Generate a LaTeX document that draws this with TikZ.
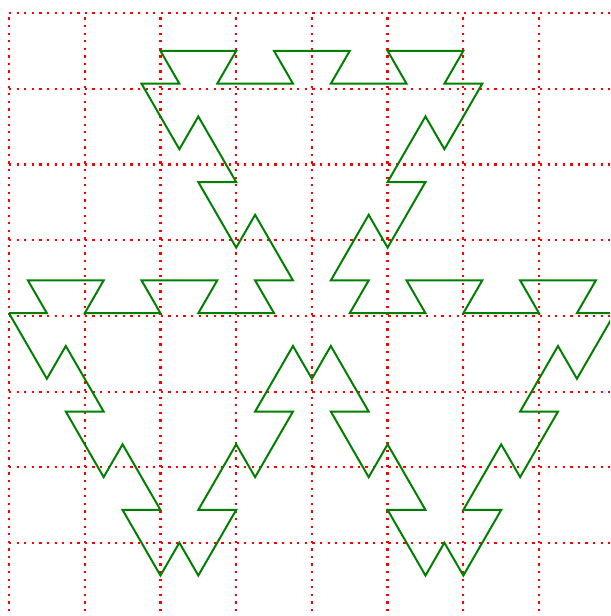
\documentclass[tikz,border=0pt]{standalone}
\begin{document}
\begin{tikzpicture}[
  gridline/.style={red, line width=0.85pt, dash pattern=on 0.85pt off 2pt},
  curve/.style={draw=green!50!black, line width=0.75pt},
  lattice/.style={x=0.25cm, y=0.4330127cm, yshift=0.0359cm}
]
\useasboundingbox (-0.119,-3.963) rectangle (7.939,4.172);
\clip (-0.119,-3.963) rectangle (7.939,4.172);
\draw[gridline] (0,-4) grid (8,4);
\begin{scope}[lattice]
% upper path
\draw[curve] (0,0) -- (2,0) -- (1,1) -- (5,1) -- (4,0) -- (8,0) -- (7,1) -- (11,1) -- (10,0) -- (14,0) -- (13,1) -- (15,1) -- (13,3) -- (12,2) -- (10,4) -- (12,4) -- (10,6) -- (9,5) -- (7,7) -- (9,7) -- (8,8) -- (12,8) -- (11,7) -- (15,7) -- (14,8) -- (18,8) -- (17,7) -- (21,7) -- (20,8) -- (24,8) -- (23,7) -- (25,7) -- (23,5) -- (22,6) -- (20,4) -- (22,4) -- (20,2) -- (19,3) -- (17,1) -- (19,1) -- (18,0) -- (22,0) -- (21,1) -- (25,1) -- (24,0) -- (28,0) -- (27,1) -- (31,1) -- (30,0) -- (32,0);
% lower path
\draw[curve] (0,0) -- (2,-2) -- (3,-1) -- (5,-3) -- (3,-3) -- (5,-5) -- (6,-4) -- (8,-6) -- (6,-6) -- (8,-8) -- (9,-7) -- (10,-8) -- (12,-6) -- (10,-6) -- (12,-4) -- (13,-5) -- (15,-3) -- (13,-3) -- (15,-1) -- (16,-2) -- (17,-1) -- (19,-3) -- (17,-3) -- (19,-5) -- (20,-4) -- (22,-6) -- (20,-6) -- (22,-8) -- (23,-7) -- (24,-8) -- (26,-6) -- (24,-6) -- (26,-4) -- (27,-5) -- (29,-3) -- (27,-3) -- (29,-1) -- (30,-2) -- (32,0);
\end{scope}
\end{tikzpicture}
\end{document}
